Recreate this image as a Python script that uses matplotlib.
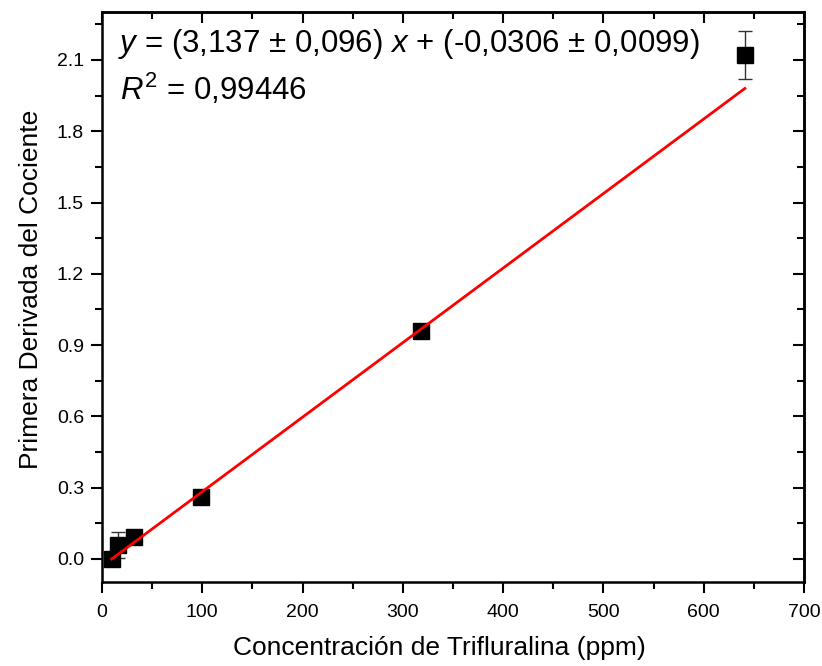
import matplotlib
matplotlib.use("Agg")
import matplotlib.pyplot as plt
import numpy as np
from matplotlib.ticker import MultipleLocator, FormatStrFormatter

plt.rcParams['font.family'] = ['Liberation Sans', 'DejaVu Sans']
plt.rcParams['mathtext.fontset'] = 'custom'
plt.rcParams['mathtext.rm'] = 'Liberation Sans'
plt.rcParams['mathtext.it'] = 'Liberation Sans:italic'

# Calibration data
conc_ppm = [9.7, 16.0, 32.0, 99.0, 318.5, 641.0]
deriv = [0.0, 0.059, 0.094, 0.262, 0.961, 2.122]
deriv_err = [0.01, 0.055, 0.01, 0.01, 0.01, 0.102]

# Linear fit (slope reported per 1000 ppm)
slope = 3.137
intercept = -0.0306

fig = plt.figure(figsize=(8.22, 6.66), dpi=100)
ax = fig.add_axes([102/822, 1 - 582/666, (804-102)/822, (582-12)/666])

ax.errorbar(conc_ppm, deriv, yerr=deriv_err, fmt='s', color='black',
            markersize=11, ecolor='#333333', elinewidth=1, capsize=5,
            capthick=1, zorder=3)

xfit = np.array([conc_ppm[0], conc_ppm[-1]])
ax.plot(xfit, slope * xfit / 1000 + intercept, color='red', lw=2, zorder=4)

ax.set_xlim(0, 700)
ax.set_ylim(-0.097, 2.302)
ax.xaxis.set_major_locator(MultipleLocator(100))
ax.xaxis.set_minor_locator(MultipleLocator(50))
ax.yaxis.set_major_locator(MultipleLocator(0.3))
ax.yaxis.set_minor_locator(MultipleLocator(0.15))
ax.yaxis.set_major_formatter(FormatStrFormatter('%.1f'))

for s in ax.spines.values():
    s.set_linewidth(1.8)

ax.tick_params(which='both', direction='out', width=1.5, labelsize=14,
               top=False, right=False)
ax.tick_params(which='major', length=8)
ax.tick_params(which='minor', length=5)
ax.tick_params(axis='x', pad=8)
ax.tick_params(axis='y', pad=5)

# Inward ticks on top and right edges
axt = ax.secondary_xaxis('top')
axt.xaxis.set_major_locator(MultipleLocator(100))
axt.xaxis.set_minor_locator(MultipleLocator(50))
axt.tick_params(which='both', direction='in', width=1.5, labeltop=False)
axt.tick_params(which='major', length=8)
axt.tick_params(which='minor', length=5)
axt.spines['top'].set_linewidth(1.8)
axr = ax.secondary_yaxis('right')
axr.yaxis.set_major_locator(MultipleLocator(0.3))
axr.yaxis.set_minor_locator(MultipleLocator(0.15))
axr.tick_params(which='both', direction='in', width=1.5, labelright=False)
axr.tick_params(which='major', length=8)
axr.tick_params(which='minor', length=5)
axr.spines['right'].set_linewidth(1.8)

ax.set_xlabel('Concentración de Trifluralina (ppm)', fontsize=19)
ax.set_ylabel('Primera Derivada del Cociente', fontsize=19)
ax.xaxis.set_label_coords(0.481, -0.095)
ax.yaxis.set_label_coords(-0.084, 0.514)

ax.text(0.023, 0.930,
        r'$\it{y}$' + ' = (3,137 ± 0,096) ' + r'$\it{x}$' + ' + (-0,0306 ± 0,0099)',
        transform=ax.transAxes, fontsize=22.5, va='baseline', ha='left')
ax.text(0.025, 0.846, r'$\it{R}^{2}$' + ' = 0,99446',
        transform=ax.transAxes, fontsize=22.5, va='baseline', ha='left')

fig.savefig('out.png', dpi=100)
